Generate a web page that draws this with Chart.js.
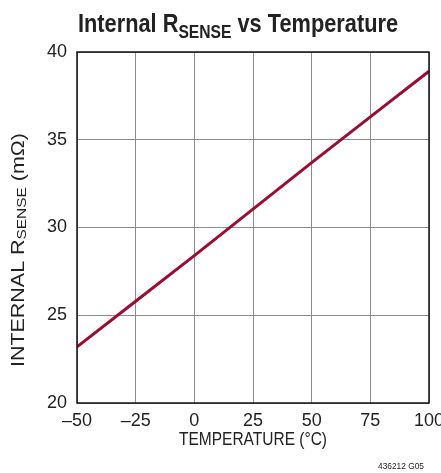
<!DOCTYPE html>
<html>
<head>
<meta charset="utf-8">
<script src="https://cdn.jsdelivr.net/npm/chart.js@4/dist/chart.umd.min.js"></script>
<style>
  html, body { margin: 0; padding: 0; background: #fff; }
  #wrap { position: relative; width: 441px; height: 473px; }
</style>
</head>
<body>
<div id="wrap"><canvas id="rsenseChart" width="441" height="473"></canvas></div>
<script>
const temps = [-50, -25, 0, 25, 50, 75, 100];
const rsense = [23.2, 25.8, 28.4, 31.05, 33.7, 36.3, 38.9];
const xTicks = [-50, -25, 0, 25, 50, 75, 100];
const yTicks = [20, 25, 30, 35, 40];

const FONT = "'Liberation Sans', Arial, sans-serif";

// draws a run of text pieces (some subscripted), squeezed to a given width
function drawRich(ctx, parts, x, y, size, weight, width, subDrop) {
    let total = 0;
    parts.forEach(p => {
        const s = p.sub ? size * 0.72 : size;
        ctx.font = `${weight} ${s}px ${FONT}`;
        p.w = ctx.measureText(p.t).width;
        total += p.w;
    });
    const sx = width ? width / total : 1;
    ctx.save();
    ctx.translate(x - total * sx / 2, y);
    ctx.scale(sx, 1);
    let cx = 0;
    parts.forEach(p => {
        const s = p.sub ? size * 0.72 : size;
        ctx.font = `${weight} ${s}px ${FONT}`;
        ctx.fillText(p.t, cx, p.sub ? (subDrop || 0) : 0);
        cx += p.w;
    });
    ctx.restore();
}

const extras = {
    id: 'extras',
    afterDraw(chart) {
        const ctx = chart.ctx;
        const a = chart.chartArea;
        ctx.save();
        // frame
        ctx.strokeStyle = '#111';
        ctx.lineWidth = 1.5;
        ctx.strokeRect(a.left, a.top, a.right - a.left, a.bottom - a.top);

        ctx.fillStyle = '#222';
        ctx.textBaseline = 'alphabetic';
        ctx.textAlign = 'left';
        // title
        drawRich(ctx, [
            { t: 'Internal R' },
            { t: 'SENSE', sub: true },
            { t: ' vs Temperature' }
        ], 238, 31.5, 26, 'bold', 320, 6);

        // y axis title
        ctx.save();
        ctx.translate(24, 250);
        ctx.rotate(-Math.PI / 2);
        drawRich(ctx, [
            { t: 'INTERNAL R' },
            { t: 'SENSE', sub: true },
            { t: ' (m\u03A9)' }
        ], 0, 0, 19, 'normal', 234, 1.5);
        ctx.restore();

        // x axis title
        drawRich(ctx, [{ t: 'TEMPERATURE (\u00B0C)' }], 253, 444.5, 18.5, 'normal', 148);

        // figure code
        drawRich(ctx, [{ t: '436212 G05' }], 401, 468.5, 9.5, 'normal', 46);
        ctx.restore();
    }
};

new Chart(document.getElementById('rsenseChart'), {
    type: 'line',
    data: {
        datasets: [{
            data: temps.map((t, i) => ({ x: t, y: rsense[i] })),
            borderColor: '#9e0b30',
            borderWidth: 3,
            pointRadius: 0,
            tension: 0,
            fill: false
        }]
    },
    options: {
        responsive: false,
        animation: false,
        layout: { padding: { top: 52, right: 12, left: 0, bottom: 0 } },
        plugins: { legend: { display: false }, tooltip: { enabled: false } },
        scales: {
            x: {
                type: 'linear',
                min: -50,
                max: 100,
                afterBuildTicks: s => { s.ticks = xTicks.map(v => ({ value: v })); },
                afterFit: s => { s.height = 70; s.paddingLeft = 0; s.paddingRight = 0; },
                grid: { color: '#8c8c8c', lineWidth: 1, drawTicks: false },
                border: { display: false },
                ticks: {
                    padding: 7,
                    color: '#222',
                    font: { family: FONT, size: 18 },
                    maxRotation: 0,
                    callback: v => String(v).replace('-', '\u2013')
                }
            },
            y: {
                min: 20,
                max: 40,
                afterBuildTicks: s => { s.ticks = yTicks.map(v => ({ value: v })); },
                afterFit: s => { s.width = 77; s.paddingTop = 0; s.paddingBottom = 0; },
                grid: { color: '#8c8c8c', lineWidth: 1, drawTicks: false },
                border: { display: false },
                ticks: {
                    padding: 10,
                    color: '#222',
                    font: { family: FONT, size: 18 }
                }
            }
        }
    },
    plugins: [extras]
});
</script>
</body>
</html>
